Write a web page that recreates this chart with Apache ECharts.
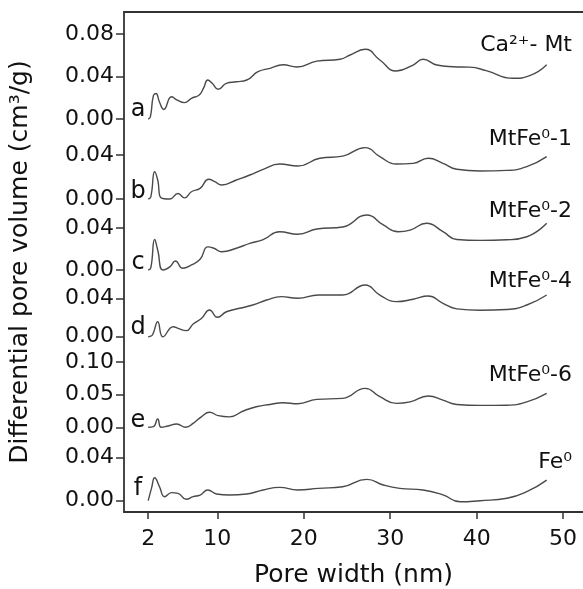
<!DOCTYPE html>
<html>
<head>
<meta charset="utf-8">
<script src="https://cdn.jsdelivr.net/npm/echarts@6/dist/echarts.min.js"></script>
<style>html,body{margin:0;padding:0;background:#fff}#c{width:583px;height:589px}</style>
</head>
<body>
<div id="c"></div>
<script>
// ---- data (pore width in nm, differential pore volume in cm3/g) ----
const seriesNames = ['Ca²⁺- Mt', 'MtFe⁰-1', 'MtFe⁰-2', 'MtFe⁰-4', 'MtFe⁰-6', 'Fe⁰'];
const panelLetters = ['a', 'b', 'c', 'd', 'e', 'f'];
const xTickLabels = [2, 10, 20, 30, 40, 50];

const widthA = [2.0, 2.25, 2.6, 2.9, 3.3, 3.8, 4.7, 5.3, 6.2, 7.0, 7.9, 8.4, 8.9, 9.4, 10.1, 11.05, 12.2, 13.4, 14.7, 16.1, 17.6, 19.2, 21.5, 24.2, 25.3, 27.1, 28.8, 30.7, 32.65, 33.8, 35.4, 37.3, 39.2, 41.1, 44.2, 46.2, 48.1];
const volA   = [0, 0.002, 0.022, 0.024, 0.016, 0.009, 0.021, 0.018, 0.0154, 0.0195, 0.0226, 0.029, 0.0367, 0.0336, 0.028, 0.0336, 0.035, 0.0367, 0.0445, 0.0477, 0.051, 0.049, 0.0545, 0.0562, 0.060, 0.0656, 0.0555, 0.0452, 0.0508, 0.0562, 0.0508, 0.0492, 0.0488, 0.0455, 0.0383, 0.041, 0.051];

const widthB = [2.0, 2.3, 2.75, 3.1, 3.5, 4.5, 5.45, 6.2, 7.0, 8.0, 9.0, 9.7, 10.5, 12.2, 13.75, 15.3, 17.2, 19.3, 21.85, 24.5, 27.1, 28.8, 30.7, 32.65, 34.4, 36.1, 37.7, 40.4, 43.5, 45.8, 48.1];
const volB   = [0, 0.002, 0.0248, 0.0173, 0.001, 0, 0.005, 0.001, 0.0066, 0.0097, 0.0179, 0.0157, 0.0127, 0.0173, 0.0218, 0.027, 0.0318, 0.030, 0.037, 0.039, 0.0467, 0.0385, 0.0318, 0.0324, 0.037, 0.0324, 0.027, 0.0255, 0.026, 0.0294, 0.0385];

const widthC = [2.0, 2.3, 2.75, 3.1, 3.7, 4.5, 5.15, 6.0, 7.0, 8.0, 8.9, 9.6, 10.5, 12.2, 13.75, 15.3, 17.2, 19.3, 21.5, 24.5, 27.3, 29.2, 30.9, 32.3, 34.2, 36.1, 37.7, 40.4, 43.5, 45.8, 48.1];
const volC   = [0, 0.002, 0.029, 0.019, 0, 0.003, 0.0086, 0.0016, 0.0048, 0.0102, 0.022, 0.0207, 0.0174, 0.0207, 0.0254, 0.029, 0.0365, 0.034, 0.039, 0.041, 0.0524, 0.0429, 0.0365, 0.038, 0.0445, 0.0365, 0.029, 0.0282, 0.0288, 0.0317, 0.0445];

const widthD = [2.0, 2.4, 2.6, 3.1, 3.7, 4.9, 5.45, 6.4, 7.2, 8.15, 9.1, 10.0, 11.05, 12.6, 14.1, 15.7, 17.4, 19.3, 21.7, 24.5, 27.1, 28.8, 30.7, 32.65, 34.4, 36.1, 37.7, 40.4, 43.5, 45.8, 48.1];
const volD   = [0, 0.001, 0.004, 0.0156, 0, 0.0104, 0.0087, 0.0063, 0.0132, 0.019, 0.0278, 0.0202, 0.026, 0.0296, 0.033, 0.0382, 0.0417, 0.040, 0.0434, 0.0434, 0.0539, 0.0434, 0.0365, 0.039, 0.0424, 0.0348, 0.029, 0.0276, 0.0284, 0.033, 0.0434];

const widthE = [2.0, 2.6, 3.1, 3.5, 4.3, 5.3, 6.35, 7.2, 8.15, 9.1, 10.1, 11.4, 13.0, 14.5, 16.1, 17.6, 19.3, 21.5, 24.5, 27.1, 28.8, 30.7, 32.3, 34.4, 36.1, 37.7, 40.4, 43.5, 45.8, 48.1];
const volE   = [0, 0.001, 0.0127, 0, 0.002, 0.005, 0, 0.006, 0.016, 0.023, 0.0178, 0.016, 0.025, 0.0315, 0.035, 0.0376, 0.036, 0.0428, 0.0443, 0.0596, 0.0468, 0.0367, 0.039, 0.0479, 0.0417, 0.035, 0.0335, 0.0338, 0.039, 0.052];

const widthF = [2.0, 2.4, 2.75, 3.3, 3.9, 4.7, 5.45, 6.4, 7.2, 8.0, 8.9, 9.9, 11.4, 13.4, 15.3, 17.2, 19.3, 21.7, 24.5, 27.3, 29.2, 31.1, 33.8, 36.1, 38.1, 40.4, 43.5, 45.8, 48.1];
const volF   = [0, 0.012, 0.0212, 0.013, 0.0037, 0.0074, 0.0068, 0.0013, 0.0037, 0.0052, 0.0099, 0.0062, 0.0052, 0.0062, 0.0099, 0.0123, 0.0099, 0.0114, 0.0129, 0.0197, 0.0145, 0.0114, 0.0099, 0.0053, -0.001, 0, 0.0022, 0.0083, 0.019];

const yMaxes = [0.08, 0.04, 0.04, 0.04, 0.10, 0.04];
const yIntervals = [0.04, 0.04, 0.04, 0.04, 0.05, 0.04];

// ---- layout ----
const FONT = 'DejaVu Sans';
const AX = '#333';
const LEFT = 124;
const XMIN = -0.8, XMAX = 52.3;
const panelTop = [34, 155, 228, 298.3, 362, 457.3];
const panelH   = [85, 44, 42, 38.4, 65.3, 43.4];
const letterY  = [110, 192, 263, 328, 421, 489];
const nameY    = [45, 139, 211, 281, 375, 462];

const widths = [widthA, widthB, widthC, widthD, widthE, widthF];
const vols = [volA, volB, volC, volD, volE, volF];

const grids = [{left: LEFT, right: 0, top: 12, bottom: 77, containLabel: false, outerBoundsMode: 'none'}];
const xAxes = [
  {gridIndex: 0, type: 'value', min: XMIN, max: XMAX, position: 'bottom',
   axisLine: {onZero: false, lineStyle: {color: AX, width: 1.8}},
   axisTick: {length: 7, lineStyle: {color: AX, width: 1.5}, customValues: xTickLabels},
   axisLabel: {customValues: xTickLabels, color: '#111', fontFamily: FONT, fontSize: 22, margin: 16},
   splitLine: {show: false},
   name: 'Pore width (nm)', nameLocation: 'middle', nameGap: 51,
   nameTextStyle: {color: '#111', fontFamily: FONT, fontSize: 25}},
  {gridIndex: 0, type: 'value', min: XMIN, max: XMAX, position: 'top',
   axisLine: {onZero: false, lineStyle: {color: AX, width: 1.8}}, axisTick: {show: false},
   axisLabel: {show: false}, splitLine: {show: false}}
];
const yAxes = [
  {gridIndex: 0, type: 'value', min: 0, max: 1, position: 'left',
   axisLine: {show: true, onZero: false, lineStyle: {color: AX, width: 1.8}}, axisTick: {show: false},
   axisLabel: {show: false}, splitLine: {show: false}}
];
const series = [];
for (let i = 0; i < 6; i++) {
  grids.push({left: LEFT, right: 0, top: panelTop[i], height: panelH[i], containLabel: false, outerBoundsMode: 'none'});
  xAxes.push({gridIndex: i + 1, type: 'value', min: XMIN, max: XMAX, show: false,
    axisLine: {onZero: false}});
  yAxes.push({gridIndex: i + 1, type: 'value', min: 0, max: yMaxes[i], interval: yIntervals[i],
    position: 'left',
    axisLine: {show: false, onZero: false},
    axisTick: {show: true, length: 8, lineStyle: {color: AX, width: 1.5}},
    axisLabel: {color: '#111', fontFamily: FONT, fontSize: 22, margin: 10,
      formatter: v => v.toFixed(2)},
    splitLine: {show: false}});
  series.push({type: 'line', name: seriesNames[i], xAxisIndex: i + 2, yAxisIndex: i + 1,
    data: widths[i].map((w, k) => [w, vols[i][k]]),
    showSymbol: false, smooth: 0.5, clip: false,
    lineStyle: {color: '#4a4a4a', width: 1.4}});
}

const graphics = [];
for (let i = 0; i < 6; i++) {
  graphics.push({type: 'text', x: 138, y: letterY[i],
    style: {text: panelLetters[i], fill: '#111', font: '24px ' + FONT,
      textAlign: 'center', textVerticalAlign: 'middle'}});
  graphics.push({type: 'text', x: 572, y: nameY[i],
    style: {text: seriesNames[i], fill: '#111', font: '22px ' + FONT,
      textAlign: 'right', textVerticalAlign: 'middle'}});
}
graphics.push({type: 'text', x: 20, y: 262, rotation: Math.PI / 2,
  style: {text: 'Differential pore volume (cm³/g)', fill: '#111', font: '25px ' + FONT,
    textAlign: 'center', textVerticalAlign: 'middle'}});

const chart = echarts.init(document.getElementById('c'), null, {renderer: 'canvas'});
chart.setOption({
  animation: false,
  backgroundColor: '#fff',
  grid: grids, xAxis: xAxes, yAxis: yAxes, series: series,
  graphic: graphics
});
</script>
</body>
</html>
